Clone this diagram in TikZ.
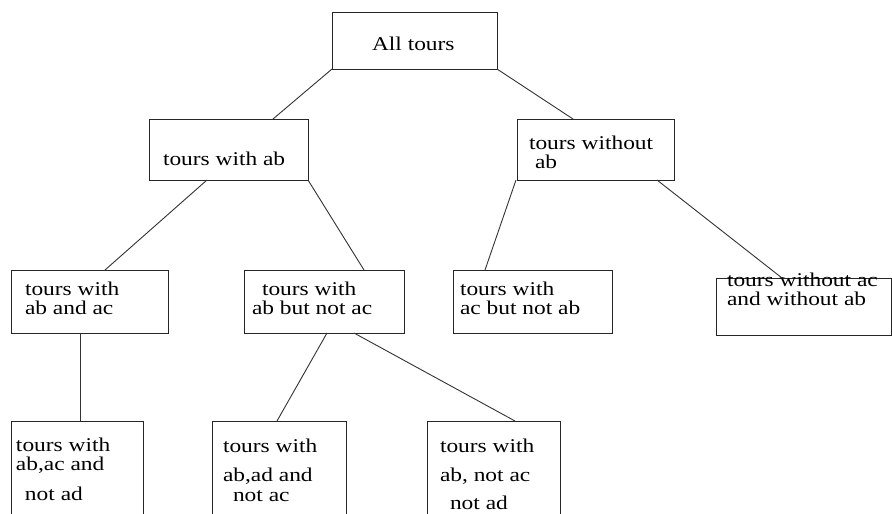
\documentclass[tikz,border=0pt]{standalone}
\usepackage{fontspec}
\setmainfont{Liberation Serif}[FakeStretch=1.2]
\tikzset{
  box/.style={draw=black!85, line width=1pt, inner sep=0pt, outer sep=0pt, anchor=north west},
  lbl/.style={inner sep=0pt, outer sep=0pt, anchor=base west, align=left, font=\fontsize{19.5}{18.5}\selectfont},
  link/.style={draw=black!80, line width=0.9pt}
}
\begin{document}
\begin{tikzpicture}[x=1pt,y=-1pt]
\useasboundingbox (0,0) rectangle (892,514);
\clip (0,0) rectangle (892,514);
% boxes
\node[box, minimum width=165pt, minimum height=57pt] (A) at (332,12) {};
\node[box, minimum width=159pt, minimum height=61pt] (B) at (149,119) {};
\node[box, minimum width=157pt, minimum height=61pt] (C) at (517,119) {};
\node[box, minimum width=157pt, minimum height=63pt] (D) at (11,270) {};
\node[box, minimum width=160pt, minimum height=63pt] (E) at (244,270) {};
\node[box, minimum width=159pt, minimum height=63pt] (F) at (453,270) {};
\node[box, minimum width=175pt, minimum height=57pt] (G) at (716,278) {};
\node[box, minimum width=132pt, minimum height=120pt] (H) at (11,421) {};
\node[box, minimum width=134pt, minimum height=120pt] (I) at (212,421) {};
\node[box, minimum width=133pt, minimum height=120pt] (J) at (427,421) {};
% texts (anchored at the baseline of their last line)
\node[lbl] (tA) at (372,50) {All tours};
\node[lbl] (tB) at (163,165) {tours with ab};
\node[lbl] (tC) at (529,168) {tours without\\\hspace*{6pt}ab};
\node[lbl] (tD) at (25,314) {tours with\\ab and ac};
\node[lbl] (tE) at (252,314) {\hspace*{10pt}tours with\\ab but not ac};
\node[lbl] (tF) at (460,314) {tours with\\ac but not ab};
\node[lbl] (tG) at (727,305) {tours without ac\\and without ab};
\node[lbl] (tH) at (16,500) {tours with\\ab,ac and\\[11.5pt]\hspace*{9pt}not ad};
\node[lbl] (tI) at (223,501) {tours with\\[10.5pt]ab,ad and\\[1.5pt]\hspace*{10pt}not ac};
\node[lbl] (tJ) at (440,509) {tours with\\[10.5pt]ab, not ac\\[9.5pt]\hspace*{10pt}not ad};
% connectors
\draw[link] (A.south west) -- ([xshift=124pt]B.north west);
\draw[link] (A.south east) -- ([xshift=56pt]C.north west);
\draw[link] ([xshift=58pt]B.south west) -- ([xshift=94pt]D.north west);
\draw[link] (B.south east) -- ([xshift=120pt]E.north west);
\draw[link] ([xshift=-1pt]C.south west) -- ([xshift=32pt]F.north west);
\draw[link] ([xshift=140pt]C.south west) -- ([xshift=66pt]G.north west);
\draw[link] ([xshift=69pt]D.south west) -- ([xshift=69pt]H.north west);
\draw[link] ([xshift=83pt]E.south west) -- ([xshift=65pt]I.north west);
\draw[link] ([xshift=110pt]E.south west) -- ([xshift=88pt]J.north west);
\end{tikzpicture}
\end{document}
